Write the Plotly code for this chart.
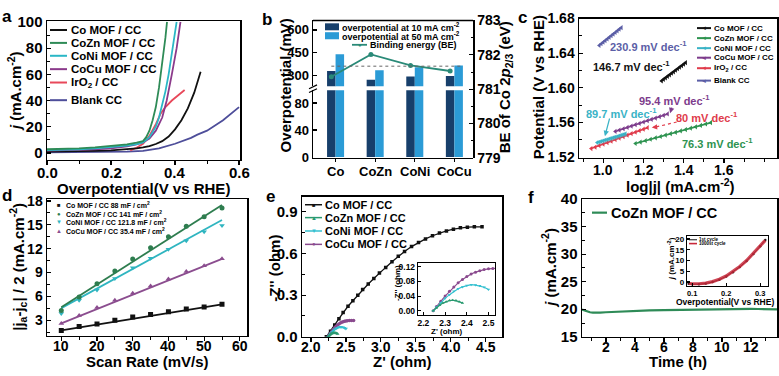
import plotly.graph_objects as go

W, H = 779, 376
FONT = "Liberation Sans, Arial, Helvetica, sans-serif"

# ---------------- data ----------------
# (a) polarization curves: overpotential (V) vs j (mA cm-2)
a_co_x = [0.00, 0.05, 0.10, 0.15, 0.20, 0.25, 0.28, 0.30, 0.32, 0.34, 0.36, 0.38, 0.40, 0.42, 0.44, 0.46, 0.48]
a_co_j = [1.0, 1.1, 1.3, 1.6, 2.0, 2.8, 3.5, 4.2, 5.2, 6.8, 9.0, 12.5, 18.0, 25.0, 34.0, 46.0, 62.0]
a_cozn_x = [0.00, 0.05, 0.10, 0.15, 0.20, 0.25, 0.28, 0.30, 0.31, 0.32, 0.33, 0.34, 0.35, 0.36, 0.37, 0.375]
a_cozn_j = [2.8, 3.0, 3.5, 4.2, 5.2, 6.5, 7.8, 9.0, 12.0, 17.0, 25.0, 35.0, 50.0, 68.0, 88.0, 100.0]
a_coni_x = [0.00, 0.05, 0.10, 0.15, 0.20, 0.25, 0.28, 0.30, 0.32, 0.34, 0.35, 0.36, 0.37, 0.38, 0.39, 0.40, 0.405]
a_coni_j = [2.2, 2.4, 2.8, 3.4, 4.2, 5.5, 6.8, 8.0, 12.0, 20.0, 27.0, 36.0, 47.0, 60.0, 75.0, 92.0, 100.0]
a_cocu_x = [0.00, 0.05, 0.10, 0.15, 0.20, 0.25, 0.28, 0.30, 0.32, 0.34, 0.36, 0.374, 0.39, 0.405, 0.417]
a_cocu_j = [1.8, 2.0, 2.2, 2.7, 3.5, 5.0, 6.5, 8.0, 11.0, 17.0, 27.0, 40.0, 60.0, 80.0, 100.0]
a_iro2_x = [0.26, 0.28, 0.30, 0.32, 0.34, 0.355, 0.37, 0.39, 0.41, 0.43]
a_iro2_j = [2.0, 4.0, 7.0, 13.0, 22.0, 30.0, 35.0, 40.0, 44.0, 48.0]
a_blank_x = [0.00, 0.10, 0.20, 0.25, 0.30, 0.35, 0.40, 0.45, 0.47, 0.50, 0.55, 0.60]
a_blank_j = [0.5, 0.6, 0.8, 1.0, 1.5, 3.5, 7.0, 11.5, 14.0, 17.0, 25.0, 35.0]
a_xticks = [0.0, 0.2, 0.4, 0.6]

# (b) overpotentials and binding energy
b_cats = ["Co", "CoZn", "CoNi", "CoCu"]
b_eta10 = [331, 273, 294, 298]
b_eta50 = [440, 336, 356, 367]
b_be = [781.36, 782.01, 781.69, 781.53]
b_be_ref = 781.67

# (c) Tafel plots: log|j| vs potential (V vs RHE)
c_blank_x = [0.98, 0.99, 1.00, 1.01, 1.02, 1.03, 1.04, 1.05, 1.06, 1.07, 1.08, 1.09]
c_blank_y = [1.6490, 1.6509, 1.6527, 1.6546, 1.6565, 1.6583, 1.6602, 1.6621, 1.6639, 1.6658, 1.6677, 1.6695]
c_co_x = [1.29, 1.30, 1.31, 1.32, 1.33, 1.34, 1.35, 1.36, 1.37, 1.38, 1.39, 1.40, 1.41]
c_co_y = [1.6080, 1.6098, 1.6115, 1.6133, 1.6150, 1.6168, 1.6185, 1.6203, 1.6220, 1.6238, 1.6255, 1.6273, 1.6290]
c_cocu_x = [1.06, 1.08, 1.10, 1.12, 1.14, 1.16, 1.18, 1.20, 1.22, 1.24, 1.26, 1.28, 1.30, 1.32]
c_cocu_y = [1.5496, 1.5512, 1.5527, 1.5543, 1.5558, 1.5574, 1.5589, 1.5605, 1.5620, 1.5636, 1.5651, 1.5667, 1.5682, 1.5698]
c_coni_x = [0.97, 0.98, 0.99, 1.00, 1.01, 1.02, 1.03, 1.04, 1.05, 1.06, 1.07, 1.08, 1.09, 1.10, 1.11]
c_coni_y = [1.5367, 1.5374, 1.5381, 1.5388, 1.5396, 1.5403, 1.5410, 1.5417, 1.5424, 1.5431, 1.5438, 1.5446, 1.5453, 1.5460, 1.5467]
c_iro2_x = [0.94, 0.96, 0.98, 1.00, 1.02, 1.04, 1.06, 1.08, 1.10, 1.12, 1.14, 1.16, 1.18, 1.20, 1.22]
c_iro2_y = [1.5298, 1.5315, 1.5333, 1.5350, 1.5367, 1.5384, 1.5402, 1.5419, 1.5436, 1.5453, 1.5471, 1.5488, 1.5505, 1.5522, 1.5540]
c_cozn_x = [1.16, 1.185, 1.21, 1.235, 1.26, 1.285, 1.31, 1.335, 1.36, 1.385, 1.41, 1.435, 1.46, 1.485, 1.51, 1.535]
c_cozn_y = [1.5357, 1.5373, 1.5389, 1.5406, 1.5422, 1.5438, 1.5454, 1.5470, 1.5486, 1.5502, 1.5518, 1.5534, 1.5550, 1.5566, 1.5582, 1.5598]
c_slopes = ["230.9", "146.7", "95.4", "89.7", "80", "76.3"]
c_xticks = [1.0, 1.2, 1.4, 1.6]

# (d) double-layer capacitance
d_rate = [10, 15, 20, 25, 30, 35, 40, 45, 50, 55]
d_co = [1.72, 2.20, 2.52, 3.00, 3.40, 3.72, 4.08, 4.40, 4.68, 5.00]
d_cozn = [4.24, 5.92, 7.60, 9.20, 10.70, 12.10, 13.50, 14.80, 16.00, 17.10]
d_coni = [3.84, 5.52, 6.80, 8.24, 9.60, 10.80, 11.92, 13.00, 14.13, 14.92]
d_cocu = [2.60, 3.60, 4.60, 5.52, 6.40, 7.32, 8.20, 9.12, 9.84, 10.72]
d_fit_rate = [10, 55]
d_fit_co = [1.72, 5.00]
d_fit_cozn = [4.64, 17.50]
d_fit_coni = [4.52, 15.60]
d_fit_cocu = [2.60, 10.72]
d_cdl = ["88", "141", "121.8", "35.4"]
d_xticks = [10, 20, 30, 40, 50, 60]

# (e) Nyquist plots
e_co_x = [2.22, 2.28, 2.34, 2.40, 2.46, 2.53, 2.60, 2.67, 2.74, 2.82, 2.90, 2.98, 3.07, 3.16, 3.25, 3.34,
          3.44, 3.54, 3.64, 3.74, 3.84, 3.94, 4.04, 4.14, 4.24, 4.34, 4.45]
e_co_y = [0.0, 0.04, 0.085, 0.13, 0.175, 0.22, 0.26, 0.30, 0.34, 0.38, 0.42, 0.46, 0.50, 0.54, 0.58, 0.615,
          0.65, 0.68, 0.705, 0.728, 0.748, 0.763, 0.775, 0.785, 0.79, 0.792, 0.792]
e_cozn_x = [2.245, 2.26, 2.275, 2.29, 2.305, 2.32, 2.335, 2.35, 2.365, 2.38]
e_cozn_y = [0.0, 0.008, 0.015, 0.021, 0.025, 0.028, 0.029, 0.028, 0.025, 0.021]
e_coni_x = [2.245, 2.26, 2.28, 2.30, 2.32, 2.34, 2.36, 2.38, 2.40, 2.42, 2.44, 2.46, 2.48, 2.50]
e_coni_y = [0.0, 0.010, 0.022, 0.034, 0.044, 0.053, 0.060, 0.065, 0.069, 0.071, 0.070, 0.068, 0.064, 0.058]
e_cocu_x = [2.245, 2.26, 2.28, 2.30, 2.32, 2.34, 2.36, 2.38, 2.40, 2.42, 2.44, 2.46, 2.48, 2.50, 2.52, 2.55, 2.58, 2.61]
e_cocu_y = [0.0, 0.012, 0.026, 0.040, 0.053, 0.065, 0.076, 0.085, 0.093, 0.100, 0.105, 0.109, 0.112, 0.114, 0.115, 0.117, 0.118, 0.118]
e_xticks = [2.0, 2.5, 3.0, 3.5, 4.0, 4.5]

# (f) stability
f_t = [0.35, 0.5, 0.7, 0.9, 1.1, 1.3, 1.6, 2.0, 2.5, 3.0, 3.5, 4.0, 5.0, 6.0, 7.0, 8.0, 9.0, 10.0, 11.0, 11.5, 12.0, 12.5, 13.0, 13.8]
f_j = [19.95, 19.8, 19.6, 19.45, 19.38, 19.36, 19.4, 19.45, 19.52, 19.6, 19.66, 19.7, 19.78, 19.84, 19.9, 19.96,
       20.0, 20.02, 20.08, 20.1, 20.08, 20.04, 20.0, 19.98]
f_in_eta = [0.09, 0.10, 0.12, 0.14, 0.16, 0.18, 0.20, 0.22, 0.24, 0.26, 0.28, 0.30, 0.315]
f_in_1st = [-0.8, -1.0, -1.0, -0.7, 0.0, 1.1, 2.6, 4.6, 7.0, 9.8, 13.0, 16.6, 19.6]
f_in_1000 = [-0.6, -0.8, -0.8, -0.5, 0.2, 1.3, 2.8, 4.8, 7.2, 10.0, 13.2, 16.8, 19.4]
f_xticks = [2, 4, 6, 8, 10, 12]

# ---------------- helpers ----------------
def xd(x0, x1):
    return [x0 / W, x1 / W]

def yd(y0, y1):
    return [1 - y1 / H, 1 - y0 / H]

def tf(size, color="black"):
    return dict(family=FONT, size=size, color=color, weight="bold")

def axis(domain, rng, tickvals, anchor, fmt=None, size=15, side=None, mirror=True,
         minor=None, lw=1.5, ticktext=None, ticklen=4, ticks="inside", labels=True):
    d = dict(domain=domain, range=rng, tickmode="array", tickvals=tickvals, showline=True,
             linecolor="black", linewidth=lw, ticks=ticks, ticklen=ticklen, tickwidth=1.2,
             tickcolor="black", showgrid=False, zeroline=False, tickfont=tf(size),
             mirror=mirror, anchor=anchor, fixedrange=True, showticklabels=labels)
    if ticktext is not None:
        d["ticktext"] = ticktext
    if fmt:
        d["tickformat"] = fmt
    if side:
        d["side"] = side
    if minor:
        d["minor"] = dict(ticks=ticks, ticklen=2.5, tickwidth=1, tickcolor="black",
                          tickmode="linear", tick0=minor[0], dtick=minor[1], showgrid=False)
    return d

annotations = []
shapes = []

def ann(text, x, y, size=15, color="black", angle=0, xanchor="center", yanchor="middle"):
    annotations.append(dict(text=text, x=x / W, y=1 - y / H, xref="paper", yref="paper",
                            showarrow=False, font=tf(size, color), textangle=angle,
                            xanchor=xanchor, yanchor=yanchor, borderpad=0))

def xlabels(xref, vals, texts, axis_y, size, shift):
    # x tick labels placed at the tick values of the given x axis, just below its line
    for v, t in zip(vals, texts):
        annotations.append(dict(text=t, x=v, xref=xref, y=1 - axis_y / H, yref="paper",
                                xanchor="center", yanchor="top", yshift=-shift, showarrow=False,
                                font=tf(size), borderpad=0))

def seg(x0, y0, x1, y1, color="black", width=2, dash="solid"):
    shapes.append(dict(type="line", xref="paper", yref="paper", x0=x0 / W, x1=x1 / W,
                       y0=1 - y0 / H, y1=1 - y1 / H, line=dict(color=color, width=width, dash=dash)))

def rect(x0, y0, x1, y1, color):
    shapes.append(dict(type="rect", xref="paper", yref="paper", x0=x0 / W, x1=x1 / W,
                       y0=1 - y1 / H, y1=1 - y0 / H, fillcolor=color, line=dict(width=0)))

fig = go.Figure()

# ---------------- (a) ----------------
A_COL = {"co": "#111111", "cozn": "#2e8b57", "coni": "#2ab7c6", "cocu": "#8b3a8b",
         "iro2": "#e8485a", "blank": "#4e4e9a"}
for xs, ys, k in [(a_blank_x, a_blank_j, "blank"), (a_iro2_x, a_iro2_j, "iro2"),
                  (a_co_x, a_co_j, "co"), (a_cocu_x, a_cocu_j, "cocu"),
                  (a_coni_x, a_coni_j, "coni"), (a_cozn_x, a_cozn_j, "cozn")]:
    fig.add_trace(go.Scatter(x=xs, y=ys, mode="lines", line=dict(color=A_COL[k], width=1.8),
                             xaxis="x", yaxis="y", cliponaxis=True))

a_leg = [("Co MOF / CC", "co", 22), ("CoZn MOF / CC", "cozn", 35.5), ("CoNi MOF / CC", "coni", 49),
         ("CoCu MOF / CC", "cocu", 63), ("IrO<sub>2</sub> / CC", "iro2", 77), ("Blank CC", "blank", 95.5)]
for txt, k, yy in a_leg:
    seg(50, yy, 67, yy, A_COL[k], 2)
    ann(txt, 70, yy, 11.5, xanchor="left")
xlabels("x", a_xticks, [f"{v:.1f}" for v in a_xticks], 158, 15, 3)
ann("<i>j</i> (mA.cm<sup>-2</sup>)", 14, 86, 15, angle=-90)
ann("Overpotential(V vs RHE)", 143, 188, 15)
ann("a", 7, 8, 17)

# ---------------- (b) ----------------
BARGAP = 0.57
DARK, LIGHT, BEC = "#173f6b", "#2b9bd6", "#2a8a78"
b_idx = list(range(len(b_cats)))
for ya in ["y2", "y3"]:
    fig.add_trace(go.Bar(x=b_idx, y=b_eta10, marker=dict(color=DARK, line=dict(width=0)),
                         xaxis="x2", yaxis=ya, offsetgroup="10"))
    fig.add_trace(go.Bar(x=b_idx, y=b_eta50, marker=dict(color=LIGHT, line=dict(width=0)),
                         xaxis="x2", yaxis=ya, offsetgroup="50"))
be_off = (1 - BARGAP) / 4
fig.add_trace(go.Scatter(x=[i - be_off for i in b_idx], y=b_be, mode="lines+markers",
                         line=dict(color=BEC, width=1.8), marker=dict(color=BEC, size=5),
                         xaxis="x2", yaxis="y4"))
shapes.append(dict(type="line", xref="x2", yref="y4", x0=-be_off, x1=3 + 2 * be_off,
                   y0=b_be_ref, y1=b_be_ref, line=dict(color="#666666", width=1, dash="dot")))
# top frame and axis break
seg(313, 12, 473, 12, "black", 1.5)
seg(309, 83.5, 317, 79.5, "black", 1.2)
seg(309, 87.5, 317, 83.5, "black", 1.2)
# legend
rect(325, 15, 339, 22.3, DARK)
rect(325, 24.3, 339, 31.7, LIGHT)
ann("overpotential at 10 mA cm<sup>-2</sup>", 341, 18.5, 9, xanchor="left")
ann("overpotential at 50 mA cm<sup>-2</sup>", 341, 28, 9, xanchor="left")
seg(352, 37.5, 367, 37.5, BEC, 1.8)
ann("●", 359.5, 37.5, 6, BEC)
ann("Binding energy (BE)", 369, 37.5, 9, xanchor="left")
xlabels("x2", b_idx, b_cats, 156, 13, 5)
ann("Overpotential (mV)", 285, 80, 15, angle=-90)
ann("BE of Co 2<i>p</i><sub>2/3</sub> (eV)", 505, 82, 15, angle=-90)
ann("b", 267, 11, 17)

# ---------------- (c) ----------------
C_COL = {"co": "#111111", "cozn": "#2e9350", "coni": "#3ab3c6", "cocu": "#7d3c8c",
         "iro2": "#e03c4c", "blank": "#5b5ea6"}
for xs, ys, k in [(c_blank_x, c_blank_y, "blank"), (c_co_x, c_co_y, "co"),
                  (c_iro2_x, c_iro2_y, "iro2"), (c_coni_x, c_coni_y, "coni"),
                  (c_cocu_x, c_cocu_y, "cocu"), (c_cozn_x, c_cozn_y, "cozn")]:
    fig.add_trace(go.Scatter(x=xs, y=ys, mode="lines+markers", line=dict(color=C_COL[k], width=1.6),
                             marker=dict(color=C_COL[k], size=4.5, symbol="triangle-left"),
                             xaxis="x3", yaxis="y5"))
c_leg = [("Co MOF / CC", "co", 20), ("CoZn MOF / CC", "cozn", 30.5), ("CoNi MOF / CC", "coni", 41),
         ("CoCu MOF / CC", "cocu", 51), ("IrO<sub>2</sub> / CC", "iro2", 62), ("Blank CC", "blank", 75)]
for txt, k, yy in c_leg:
    seg(697, yy, 711, yy, C_COL[k], 2)
    ann("◄", 704, yy, 6, C_COL[k])
    ann(txt, 712.5, yy, 8, xanchor="left")
dec = " mV dec<sup>-1</sup>"
ann(c_slopes[0] + dec, 648, 38.5, 11, C_COL["blank"])
ann(c_slopes[1] + dec, 631, 60, 11, C_COL["co"])
ann(c_slopes[2] + dec, 674, 95, 11, C_COL["cocu"])
ann(c_slopes[3] + dec, 621, 108.5, 11, C_COL["coni"])
ann(c_slopes[4] + dec, 707, 113.5, 11, C_COL["iro2"])
ann(c_slopes[5] + dec, 717, 140, 11, C_COL["cozn"])
for (hx, hy, tx, ty, col) in [(1.332, 1.5707, 1.343, 1.5788, C_COL["cocu"]),
                              (1.008, 1.5442, 1.033, 1.5663, C_COL["coni"])]:
    annotations.append(dict(x=hx, y=hy, ax=tx, ay=ty, xref="x3", yref="y5", axref="x3", ayref="y5",
                            showarrow=True, arrowhead=2, arrowsize=0.9, arrowwidth=1.2,
                            arrowcolor=col, text=""))
shapes.append(dict(type="line", xref="x3", yref="y5", x0=1.365, y0=1.5605, x1=1.26, y1=1.5547,
                   line=dict(color=C_COL["iro2"], width=1.2, dash="dot")))
annotations.append(dict(x=1.241, y=1.5542, ax=1.262, ay=1.5547, xref="x3", yref="y5", axref="x3",
                        ayref="y5", showarrow=True, arrowhead=2, arrowsize=0.9, arrowwidth=1.2,
                        arrowcolor=C_COL["iro2"], text=""))
xlabels("x3", c_xticks, [f"{v:.1f}" for v in c_xticks], 156, 14, 3)
ann("log|j| (mA.cm<sup>-2</sup>)", 680, 185, 15)
ann("Potential (V vs RHE)", 538, 82, 15, angle=-90)
ann("c", 522, 9, 17)

# ---------------- (d) ----------------
D_COL = {"co": "#111111", "cozn": "#2e7d4f", "coni": "#2fb5c0", "cocu": "#8b4d8f"}
D_SYM = {"co": "square", "cozn": "circle", "coni": "triangle-down", "cocu": "triangle-up"}
for ys, fy, k in [(d_co, d_fit_co, "co"), (d_cocu, d_fit_cocu, "cocu"),
                  (d_coni, d_fit_coni, "coni"), (d_cozn, d_fit_cozn, "cozn")]:
    fig.add_trace(go.Scatter(x=d_fit_rate, y=fy, mode="lines", line=dict(color=D_COL[k], width=1.8),
                             xaxis="x4", yaxis="y6"))
    fig.add_trace(go.Scatter(x=d_rate, y=ys, mode="markers",
                             marker=dict(color=D_COL[k], size=5, symbol=D_SYM[k]),
                             xaxis="x4", yaxis="y6"))
d_leg = [("Co MOF / CC", "co", "■", 205), ("CoZn MOF / CC", "cozn", "●", 214.3),
         ("CoNi MOF / CC", "coni", "▼", 223.5), ("CoCu MOF / CC", "cocu", "▲", 232.7)]
for (txt, k, g, yy), cdl in zip(d_leg, d_cdl):
    ann(g, 58.5, yy, 6, D_COL[k])
    ann(txt + " " + cdl + " mF / cm<sup>2</sup>", 64.5, yy, 7, xanchor="left")
xlabels("x4", d_xticks, [str(v) for v in d_xticks], 342, 14, 1)
ann("|j<sub>a</sub>-j<sub>c</sub>| / 2 (mA.cm<sup>-2</sup>)", 18, 270, 15, angle=-90)
ann("Scan Rate (mV/s)", 147, 369, 15)
ann("d", 7, 195, 17)

# ---------------- (e) ----------------
E_COL = {"co": "#111111", "cozn": "#2a9a70", "coni": "#35c0d0", "cocu": "#8a4a8e"}
E_SYM = {"co": "square", "cozn": "triangle-up", "coni": "triangle-down", "cocu": "circle"}
for xs, ys, k in [(e_co_x, e_co_y, "co"), (e_cocu_x, e_cocu_y, "cocu"),
                  (e_coni_x, e_coni_y, "coni"), (e_cozn_x, e_cozn_y, "cozn")]:
    fig.add_trace(go.Scatter(x=xs, y=ys, mode="lines+markers", line=dict(color=E_COL[k], width=1.3),
                             marker=dict(color=E_COL[k], size=3.5, symbol=E_SYM[k]),
                             xaxis="x5", yaxis="y7"))
for xs, ys, k in [(e_cocu_x, e_cocu_y, "cocu"), (e_coni_x, e_coni_y, "coni"),
                  (e_cozn_x, e_cozn_y, "cozn")]:
    fig.add_trace(go.Scatter(x=xs, y=ys, mode="lines+markers", line=dict(color=E_COL[k], width=1.2),
                             marker=dict(color=E_COL[k], size=3, symbol=E_SYM[k]),
                             xaxis="x6", yaxis="y8"))
e_leg = [("Co MOF / CC", "co", "■", 205), ("CoZn MOF / CC", "cozn", "▲", 218.5),
         ("CoNi MOF / CC", "coni", "▼", 232.5), ("CoCu MOF / CC", "cocu", "●", 246.5)]
for txt, k, g, yy in e_leg:
    seg(305, yy, 322, yy, E_COL[k], 1.5)
    ann(g, 313.5, yy, 6, E_COL[k])
    ann(txt, 324, yy, 11, xanchor="left")
xlabels("x5", e_xticks, [f"{v:.1f}" for v in e_xticks], 343.3, 14, 1)
ann("-Z'' (ohm)", 275, 272, 15, angle=-90)
ann("Z' (ohm)", 402, 369, 15)
ann("-Z'' (ohm)", 397, 287, 8, angle=-90)
ann("Z' (ohm)", 447, 337.5, 8)
ann("e", 270, 196, 17)

# ---------------- (f) ----------------
FG = "#2e8b57"
fig.add_trace(go.Scatter(x=f_t, y=f_j, mode="lines", line=dict(color=FG, width=2.2),
                         xaxis="x7", yaxis="y9"))
fig.add_trace(go.Scatter(x=f_in_eta, y=f_in_1st, mode="lines+markers", line=dict(color="#111111", width=1),
                         marker=dict(color="#111111", size=2.5), xaxis="x8", yaxis="y10"))
fig.add_trace(go.Scatter(x=f_in_eta, y=f_in_1000, mode="lines", line=dict(color="#c8283a", width=3.2),
                         opacity=0.85, xaxis="x8", yaxis="y10"))
seg(592, 213.3, 607, 213.3, FG, 2.2)
ann("CoZn MOF / CC", 610, 213.3, 14.5, xanchor="left")
seg(689, 241.7, 697, 241.7, "#111111", 1)
ann("1st cycle", 698, 241.7, 4.5, xanchor="left")
seg(689, 245.7, 697, 245.7, "#c8283a", 1.6)
ann("1000st cycle", 698, 245.7, 4.5, xanchor="left")
xlabels("x7", f_xticks, [str(v) for v in f_xticks], 343.3, 14, 1)
ann("<i>j</i> (mA.cm<sup>-2</sup>)", 549, 271, 15, angle=-90)
ann("Time (h)", 678, 369, 15)
ann("<i>j</i> (mA.cm<sup>-2</sup>)", 671, 262, 8, angle=-90)
ann("Overpotential(V vs RHE)", 725, 306.5, 8.5)
ann("f", 531, 197, 17)

# ---------------- layout ----------------
XT = "outside"
layout = dict(
    width=W, height=H, margin=dict(l=0, r=0, t=0, b=0), showlegend=False,
    paper_bgcolor="white", plot_bgcolor="rgba(0,0,0,0)", barmode="group",
    bargap=BARGAP, bargroupgap=0.0, font=dict(family=FONT, color="black"),
    xaxis=axis(xd(47, 240), [0, 0.603], a_xticks, "y", ".1f", 15, minor=(0, 0.1), ticks=XT,
               labels=False),
    yaxis=axis(yd(13, 158), [-5.3, 100.4], [0, 20, 40, 60, 80, 100], "x", None, 15, minor=(0, 10)),
    xaxis2=axis(xd(313, 473), [-0.57, 3.47], b_idx, "y3", None, 13, mirror=False,
                ticklen=3, ticks=XT, labels=False),
    yaxis2=axis(yd(12, 81), [230, 662], [300, 450, 600], "x2", None, 13, mirror=False),
    yaxis3=axis(yd(85, 156), [-1.4, 99], [0, 40, 80], "x2", None, 13, mirror=False),
    yaxis4=axis(yd(12, 156), [779, 783], [779, 780, 781, 782, 783], "x2", None, 14, side="right",
                mirror=False, minor=(779, 0.5)),
    xaxis3=axis(xd(579, 777), [0.879, 1.864], c_xticks, "y5", ".1f", 14,
                minor=(0.9, 0.1), ticks=XT, labels=False),
    yaxis5=axis(yd(10, 156), [1.519, 1.68], [1.52, 1.56, 1.60, 1.64, 1.68], "x3", ".2f", 14,
                minor=(1.52, 0.02)),
    xaxis4=axis(xd(47, 247), [6, 62], d_xticks, "y6", None, 14,
                minor=(5, 5), ticks=XT, labels=False),
    yaxis6=axis(yd(199, 342), [1.08, 18.24], [3, 6, 9, 12, 15, 18], "x4", None, 14, minor=(1.5, 1.5)),
    xaxis5=axis(xd(302, 502), [1.871, 4.736], e_xticks, "y7", ".1f", 15,
                minor=(2.0, 0.25), ticks=XT, labels=False),
    yaxis7=axis(yd(196.5, 343.3), [0, 1.01], [0.0, 0.3, 0.6, 0.9], "x5", ".1f", 15, minor=(0, 0.15)),
    xaxis6=axis(xd(418, 495), [2.175, 2.53], [2.2, 2.3, 2.4, 2.5], "y8", ".1f", 8.5, lw=1.2, ticklen=3),
    yaxis8=axis(yd(266, 320), [-0.01, 0.13], [0.0, 0.04, 0.08, 0.12], "x6", ".2f", 8.5, lw=1.2,
                ticklen=3),
    xaxis7=axis(xd(582, 777), [0.35, 13.8], f_xticks, "y9", None, 15,
                minor=(1, 1), ticks=XT, labels=False),
    yaxis9=axis(yd(199, 343.3), [15, 40], [15, 20, 25, 30, 35, 40], "x7", None, 15, minor=(15, 2.5)),
    xaxis8=axis(xd(687, 768), [0.085, 0.323], [0.1, 0.2, 0.3], "y10", ".1f", 7.5, lw=1.2, ticklen=3),
    yaxis10=axis(yd(238, 290), [-1.8, 21.3], [0, 5, 10, 15, 20], "x8", None, 8, lw=1.2, ticklen=3),
    annotations=annotations, shapes=shapes,
)
fig.update_layout(**layout)
# remove the browser's default page margin so the figure sits at the window's top-left corner
fig.write_html("out.html", config={"displayModeBar": False, "staticPlot": True},
               post_script="document.body.style.margin='0';document.body.style.overflow='hidden';")
